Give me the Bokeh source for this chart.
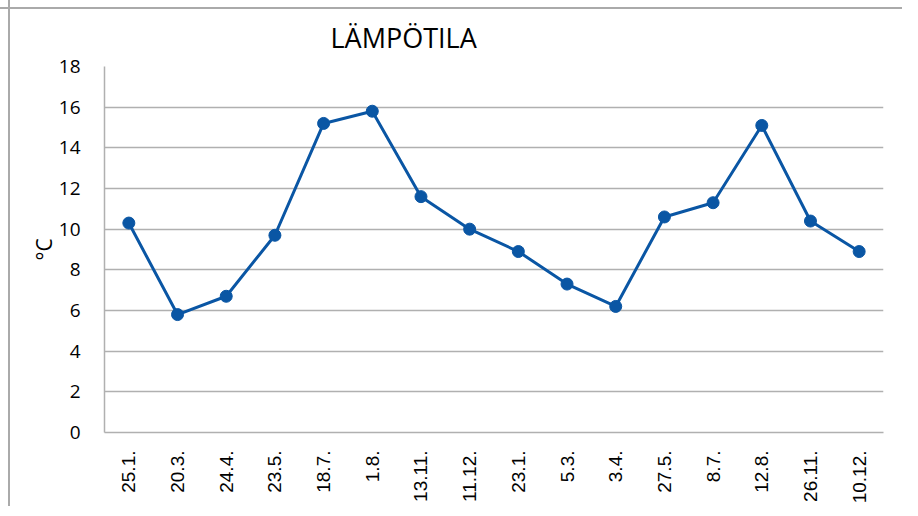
import math
from bokeh.plotting import figure
from bokeh.models import FactorRange, Range1d, FixedTicker
from bokeh.embed import file_html
from bokeh.resources import INLINE

dates = ["25.1.", "20.3.", "24.4.", "23.5.", "18.7.", "1.8.", "13.11.", "11.12.",
         "23.1.", "5.3.", "3.4.", "27.5.", "8.7.", "12.8.", "26.11.", "10.12."]
temps = [10.3, 5.8, 6.7, 9.7, 15.2, 15.8, 11.6, 10.0,
         8.9, 7.3, 6.2, 10.6, 11.3, 15.1, 10.4, 8.9]
y_ticks = [0, 2, 4, 6, 8, 10, 12, 14, 16, 18]
title_text = "LÄMPÖTILA"

GRID = "#b0b0b0"
BLUE = "#0a56a4"
EDGE = "#aaaaaa"

p = figure(x_range=FactorRange(*dates), y_range=Range1d(0, 18),
           frame_width=779, frame_height=366,
           min_border_left=104, min_border_top=66, min_border_right=19, min_border_bottom=68,
           output_backend="svg", toolbar_location=None, title=title_text)
p.border_fill_color = None
p.styles = {
    "background": (f"linear-gradient({EDGE},{EDGE}) 0 7px / 100% 2px no-repeat, "
                   f"linear-gradient({EDGE},{EDGE}) 8px 0 / 2px 100% no-repeat, #ffffff"),
}

p.title.text_font = "Open Sans"
p.title.text_font_size = "27px"
p.title.text_font_style = "normal"
p.title.text_color = "#000000"
p.title.align = "left"
p.title.offset = 226
p.title.standoff = 22

p.outline_line_color = None
p.xgrid.grid_line_color = None
p.ygrid.grid_line_color = GRID
p.ygrid.grid_line_width = 1.5
p.yaxis.ticker = FixedTicker(ticks=y_ticks)

p.yaxis.axis_line_color = GRID
p.yaxis.axis_line_width = 1.5
p.yaxis.major_tick_line_color = None
p.yaxis.minor_tick_line_color = None
p.yaxis.major_label_standoff = 18
p.yaxis.major_label_text_font = "Open Sans"
p.yaxis.major_label_text_font_size = "19px"
p.yaxis.major_label_text_color = "#000000"
p.yaxis.axis_label = "°C"
p.yaxis.axis_label_text_font = "Open Sans"
p.yaxis.axis_label_text_font_size = "21px"
p.yaxis.axis_label_text_font_style = "normal"
p.yaxis.axis_label_text_color = "#000000"
p.yaxis.axis_label_standoff = -2

p.xaxis.axis_line_color = GRID
p.xaxis.axis_line_width = 1.5
p.xaxis.major_tick_line_color = None
p.xaxis.minor_tick_line_color = None
p.xaxis.major_label_orientation = math.pi / 2
p.xaxis.major_label_standoff = 12
p.xaxis.major_label_text_font = "Liberation Sans"
p.xaxis.major_label_text_font_size = "19px"
p.xaxis.major_label_text_color = "#000000"

p.line(dates, temps, line_color=BLUE, line_width=3)
p.scatter(dates, temps, size=12, fill_color=BLUE, line_color=BLUE)

open("out.html", "w").write(file_html(p, INLINE))
